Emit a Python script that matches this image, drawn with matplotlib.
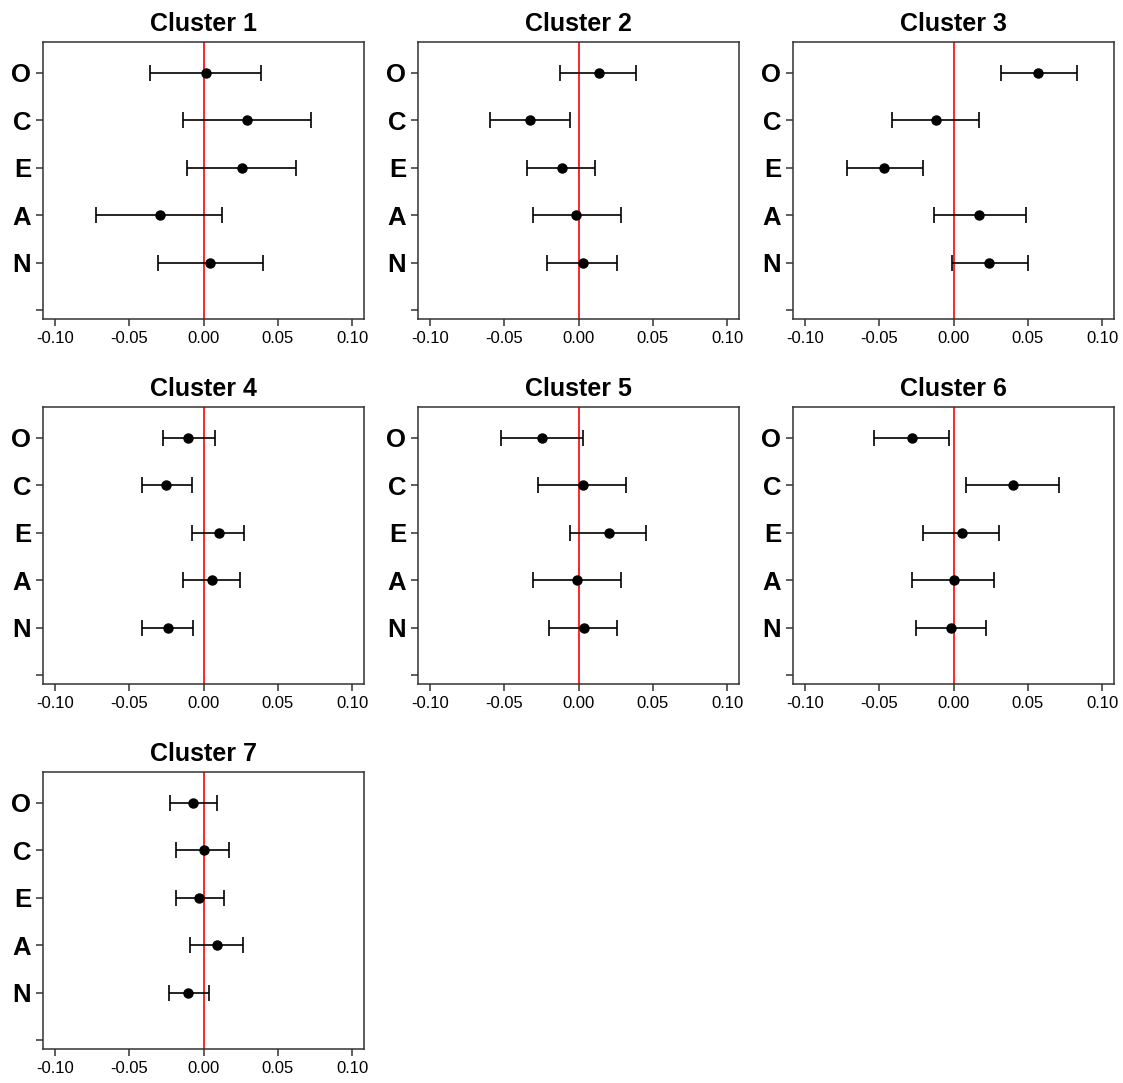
import numpy as np
import matplotlib
matplotlib.use('Agg')
import matplotlib.pyplot as plt

plt.rcParams['font.family'] = ['Liberation Sans', 'DejaVu Sans']

traits = ['O', 'C', 'E', 'A', 'N']

# estimate, lower, upper for each cluster (order O, C, E, A, N)
est = [
	[0.0016, 0.0293, 0.0261, -0.0295, 0.0045],
	[0.0139, -0.0328, -0.0109, -0.0016, 0.0027],
	[0.0570, -0.0121, -0.0465, 0.0170, 0.0239],
	[-0.0103, -0.0250, 0.0101, 0.0054, -0.0237],
	[-0.0248, 0.0027, 0.0206, -0.0011, 0.0038],
	[-0.0282, 0.0398, 0.0058, 0.0002, -0.0016],
	[-0.0072, 0.0004, -0.0027, 0.0089, -0.0103],
]
lower = [
	[-0.0362, -0.0139, -0.0112, -0.0726, -0.0308],
	[-0.0123, -0.0594, -0.0346, -0.0306, -0.0215],
	[0.0317, -0.0413, -0.0715, -0.0134, -0.0007],
	[-0.0275, -0.0416, -0.0078, -0.0139, -0.0416],
	[-0.0521, -0.0270, -0.0056, -0.0306, -0.0201],
	[-0.0532, 0.0085, -0.0203, -0.0282, -0.0250],
	[-0.0226, -0.0183, -0.0183, -0.0092, -0.0235],
]
upper = [
	[0.0387, 0.0726, 0.0623, 0.0125, 0.0398],
	[0.0389, -0.0058, 0.0112, 0.0286, 0.0261],
	[0.0831, 0.0172, -0.0206, 0.0487, 0.0498],
	[0.0078, -0.0078, 0.0275, 0.0248, -0.0069],
	[0.0027, 0.0320, 0.0456, 0.0286, 0.0261],
	[-0.0031, 0.0708, 0.0306, 0.0275, 0.0217],
	[0.0092, 0.0170, 0.0136, 0.0264, 0.0034],
]
xticks = [-0.10, -0.05, 0.00, 0.05, 0.10]

W, H = 1123, 1083
fig = plt.figure(figsize=(W / 100, H / 100), dpi=100)

lefts = [43, 418, 793]
tops = [42, 407, 772]
aw, ah = 321, 277

ypos = np.array([5, 4, 3, 2, 1])
for k in range(7):
	r, c = divmod(k, 3)
	ax = fig.add_axes([lefts[c] / W, 1 - (tops[r] + ah) / H, aw / W, ah / H])
	e = np.array(est[k])
	lo = np.array(lower[k])
	hi = np.array(upper[k])
	ax.axvline(0, color='red', lw=1.2, zorder=1)
	ax.errorbar(e, ypos, xerr=[e - lo, hi - e], fmt='o', color='black',
		ms=6.5, lw=1.2, capsize=6, capthick=1.2, zorder=2)
	ax.set_xlim(-0.108, 0.108)
	ax.set_ylim(-0.19, 5.65)
	ax.set_xticks(xticks)
	ax.set_xticklabels(['%.2f' % t for t in xticks], fontsize=12)
	ax.set_yticks([0] + list(ypos))
	ax.set_yticklabels([''] + traits, fontsize=18.5, fontweight='bold')
	ax.tick_params(direction='out', length=5, width=1.1, color='#333333')
	for s in ax.spines.values():
		s.set_color('#333333')
		s.set_linewidth(1.1)
	ax.set_title('Cluster %d' % (k + 1), fontsize=18, fontweight='bold', pad=8)

fig.savefig('out.png', dpi=100)
